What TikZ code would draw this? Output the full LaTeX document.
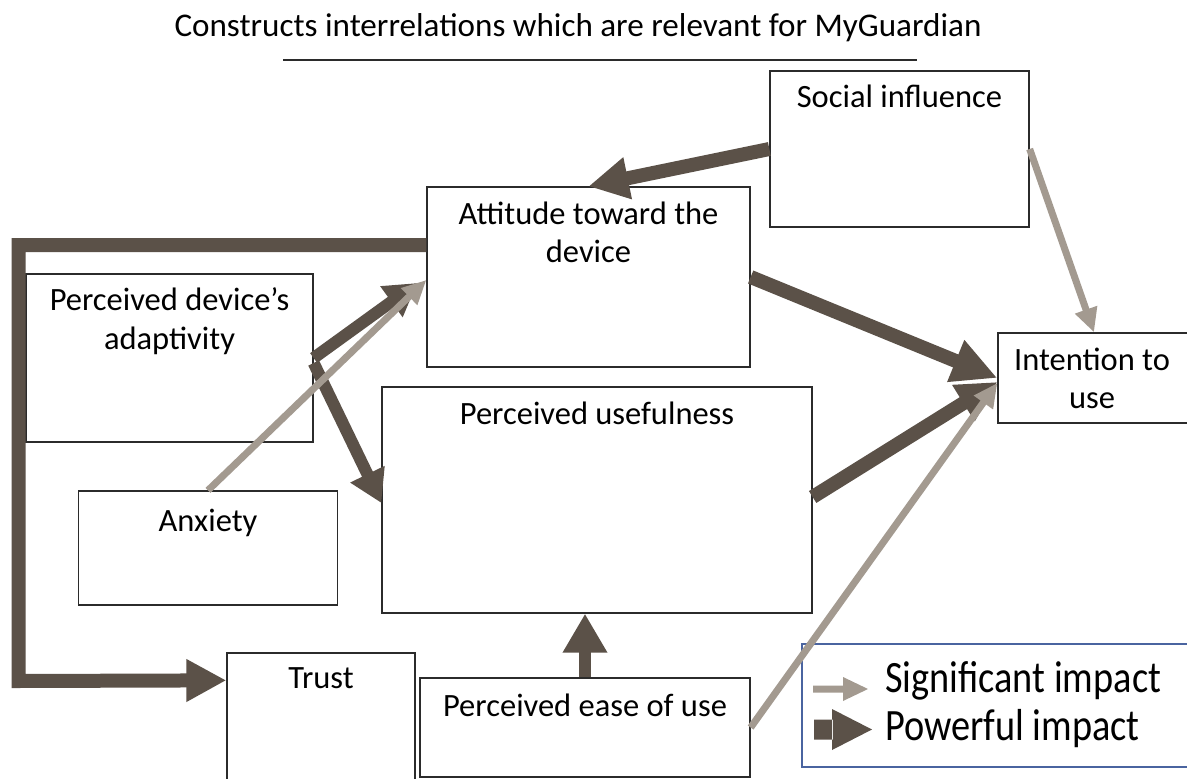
\documentclass[tikz,border=0pt]{standalone}
\usepackage{fontspec}
\setmainfont{Carlito}
\usetikzlibrary{arrows.meta}
\definecolor{darkarr}{HTML}{5B5148}
\definecolor{lightarr}{HTML}{A39A90}
\definecolor{legblue}{HTML}{4A64A0}
\definecolor{boxline}{HTML}{2B2B2B}
\tikzset{
  box/.style={draw=boxline, line width=1.3pt, fill=none, inner sep=0pt},
  lbl/.style={anchor=base, inner sep=0pt, font=\fontsize{32.5}{39}\selectfont},
  legtxt/.style={anchor=base west, inner sep=0pt, font=\fontsize{38.3}{44}\selectfont},
  darkline/.style={draw=darkarr, line width=14pt, line join=miter},
  darkarrow/.style={darkline, -{Triangle[length=40pt,width=40pt]}},
  smalldark/.style={draw=darkarr, line width=12pt, -{Triangle[length=32pt,width=36pt]}},
  lightarrow/.style={draw=lightarr, line width=7pt, -{Triangle[length=24pt,width=22pt]}}
}
\begin{document}
\begin{tikzpicture}[x=1pt,y=-1pt]
\useasboundingbox (0,0) rectangle (1187,779);
\clip (0,0) rectangle (1187,779);
\fill[white] (0,0) rectangle (1187,779);
% title
\node[lbl, font=\fontsize{33.1}{39}\selectfont] (title) at (578,36) {Constructs interrelations which are relevant for MyGuardian};
\draw[draw=boxline, line width=1.3pt] (283,60) -- (917,60);
% boxes
\node[box, minimum width=259pt, minimum height=156pt] (soc) at (899.5,149) {};
\node[box, minimum width=323pt, minimum height=180pt] (att) at (588.5,277) {};
\node[box, minimum width=287pt, minimum height=168pt] (adapt) at (169.5,358) {};
\node[box, minimum width=190pt, minimum height=90pt] (int) at (1093,378) {};
\node[box, minimum width=430pt, minimum height=226pt] (use) at (597,500) {};
\node[box, minimum width=259pt, minimum height=114pt] (anx) at (208,548) {};
\node[box, minimum width=188pt, minimum height=160pt] (trust) at (321,733) {};
\node[box, minimum width=330pt, minimum height=99pt] (ease) at (585,727.5) {};
\node[draw=legblue, line width=1.1pt, inner sep=0pt, minimum width=400pt, minimum height=123pt] (leg) at (1002,705.5) {};
% labels
\node[lbl] (soc-t) at (soc.center |- 0,107) {Social influence};
\node[lbl] (att-t1) at (att.center |- 0,224) {Attitude toward the};
\node[lbl] (att-t2) at (att.center |- 0,262) {device};
\node[lbl] (adapt-t1) at (adapt.center |- 0,310) {Perceived device’s};
\node[lbl] (adapt-t2) at (adapt.center |- 0,349) {adaptivity};
\node[lbl] (int-t1) at (1092,370) {Intention to};
\node[lbl] (int-t2) at (1092,408) {use};
\node[lbl] (use-t) at (use.center |- 0,424) {Perceived usefulness};
\node[lbl] (anx-t) at (anx.center |- 0,531) {Anxiety};
\node[lbl] (trust-t) at (trust.center |- 0,688) {Trust};
\node[lbl] (ease-t) at (ease.center |- 0,716) {Perceived ease of use};
\node[legtxt] (leg-t1) at (885,692) {\scalebox{1}[1.17]{Significant impact}};
\node[legtxt] (leg-t2) at (885,740) {\scalebox{1}[1.17]{Powerful impact}};
% connectors
\coordinate (c1) at (18.5,245);
\coordinate (c2) at (18.5,681);
\draw[darkarrow] ([yshift=32pt]att.west) -- (c1) -- (c2) -- ([yshift=-28pt]trust.north west);
\draw[darkarrow] (soc.west) -- (att.north);
\draw[lightarrow] (soc.east) -- ([xshift=1pt]int.north);
\draw[darkarrow, -{Triangle[length=45pt,width=42pt]}] (att.east) -- (int.west);
\draw[darkarrow] ([yshift=3pt]use.east) -- ([yshift=-4pt]int.west);
\draw[lightarrow] (ease.east) -- ([yshift=-5pt]int.west);
\draw[darkline, line width=12pt, -{Triangle[length=39pt,width=42pt]}] (ease.north) -- (ease.north |- use.south);
\draw[smalldark] (adapt.east) -- ([xshift=-9pt,yshift=-6pt]att.west);
\draw[smalldark] ([yshift=-5pt]adapt.east) -- ([yshift=-3pt]use.west);
\draw[lightarrow] (anx.north) -- ([yshift=-3pt]att.west);
% legend samples
\fill[lightarr] (813,685.5) rectangle (843,692.5) (843,677) -- (868,689) -- (843,701) -- cycle;
\fill[darkarr] (814,719.5) rectangle (833,739.5) (832,709) -- (872,729.5) -- (832,750) -- cycle;
\end{tikzpicture}
\end{document}
